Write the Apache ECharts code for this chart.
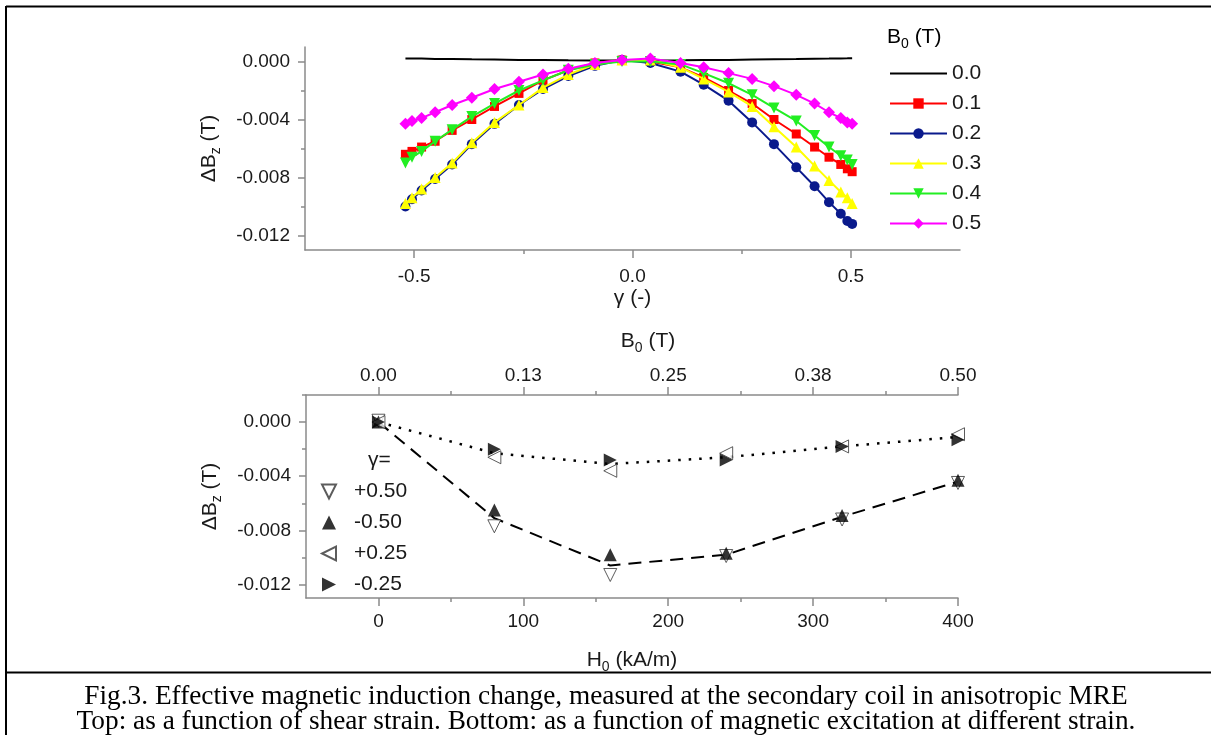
<!DOCTYPE html>
<html>
<head>
<meta charset="utf-8">
<script src="https://cdn.jsdelivr.net/npm/echarts@6/dist/echarts.min.js"></script>
<style>
html,body{margin:0;padding:0;background:#fff;}
#chart{width:1211px;height:735px;}
</style>
</head>
<body>
<div id="chart"></div>
<script>
// ---------- DATA ----------
// Top panel: shear strain gamma (-) and ΔBz (T) for B0 = 0.0 ... 0.5 T
const gamma = [-0.52, -0.505, -0.483, -0.452, -0.413, -0.368, -0.316, -0.26, -0.205, -0.147, -0.086, -0.024,
               0.041, 0.11, 0.163, 0.22, 0.274, 0.324, 0.375, 0.417, 0.45, 0.477, 0.492, 0.503];
const b00 = [0.0002, 0.0002, 0.0002, 0.00018, 0.00017, 0.00015, 0.00013, 0.00011, 0.0001, 0.00008, 0.00007, 0.00007,
             0.00007, 0.00008, 0.0001, 0.00011, 0.00013, 0.00015, 0.00017, 0.00019, 0.0002, 0.00021, 0.00022, 0.00023];
const b01 = [-0.0064, -0.0062, -0.0059, -0.0055, -0.00475, -0.0040, -0.0031, -0.0022, -0.0013, -0.0006, -0.0001, 0.0001,
             0.0000, -0.0004, -0.0011, -0.0020, -0.0029, -0.0040, -0.0050, -0.0059, -0.0066, -0.0071, -0.0074, -0.0076];
const b02 = [-0.0100, -0.0095, -0.0089, -0.0081, -0.0071, -0.0057, -0.0043, -0.0030, -0.0019, -0.0010, -0.0003, 0.0001,
             -0.0001, -0.0007, -0.0016, -0.0027, -0.0042, -0.0057, -0.0073, -0.0086, -0.0097, -0.0105, -0.0110, -0.0112];
const b03 = [-0.0098, -0.0094, -0.0088, -0.0080, -0.0070, -0.0056, -0.0042, -0.0030, -0.0018, -0.0009, -0.0002, 0.0001,
             0.0001, -0.0004, -0.0012, -0.0021, -0.0031, -0.0045, -0.0059, -0.0072, -0.0082, -0.0090, -0.0094, -0.0098];
const b04 = [-0.0070, -0.0066, -0.0062, -0.0055, -0.0047, -0.0038, -0.0029, -0.0020, -0.0013, -0.0006, -0.0002, 0.0000,
             0.0000, -0.0002, -0.0008, -0.0015, -0.0023, -0.0032, -0.0041, -0.0051, -0.0059, -0.0065, -0.0068, -0.0071];
const b05 = [-0.0043, -0.0041, -0.0039, -0.0035, -0.0030, -0.0025, -0.0019, -0.0014, -0.0009, -0.0005, -0.0001, 0.0001,
             0.0002, -0.0001, -0.0004, -0.0008, -0.0012, -0.0017, -0.0023, -0.0029, -0.0035, -0.0039, -0.0042, -0.0043];
const topNames = ['0.0', '0.1', '0.2', '0.3', '0.4', '0.5'];

// Bottom panel: H0 (kA/m) and ΔBz (T) at different strains
const H0 = [0, 80, 160, 240, 320, 400];
const gP50 = [0.0001, -0.0077, -0.0113, -0.0099, -0.0072, -0.0045];
const gM50 = [0.0000, -0.0065, -0.0098, -0.0097, -0.0069, -0.0043];
const gP25 = [0.0000, -0.0026, -0.0036, -0.0023, -0.0018, -0.0009];
const gM25 = [0.0000, -0.0020, -0.0028, -0.0028, -0.0018, -0.0013];
const fit50 = [0.0000, -0.0071, -0.0106, -0.0098, -0.0070, -0.0044];
const fit25 = [0.0000, -0.0023, -0.0031, -0.0026, -0.0018, -0.0011];
const bottomNames = ['+0.50', '-0.50', '+0.25', '-0.25'];

// Tick labels
const topXTicks = [-0.5, 0, 0.5];
const topXMinor = [-0.25, 0.25];
const yTicks = [-0.012, -0.008, -0.004, 0];
const yMinor = [-0.010, -0.006, -0.002];
const yMinorBottom = [-0.010, -0.006, -0.002, 0.002];
const hTicks = [0, 100, 200, 300, 400];
const hMinor = [50, 150, 250, 350];
const bTicks = [0, 0.125, 0.25, 0.375, 0.5];
const bMinor = [0.0625, 0.1875, 0.3125, 0.4375];
const captionLines = [
  'Fig.3. Effective magnetic induction change, measured at the secondary coil in anisotropic MRE',
  'Top: as a function of shear strain. Bottom: as a function of magnetic excitation at different strain.'
];

// ---------- STYLE ----------
const FONT = '"Liberation Sans", Arial, sans-serif';
const SERIF = '"Liberation Serif", "Times New Roman", serif';
const AX = '#8a8a8a';
const TXT = '#1a1a1a';
const subRich = {
  a: { fontSize: 21, fontFamily: FONT, color: TXT, lineHeight: 28, verticalAlign: 'middle' },
  s: { fontSize: 14, fontFamily: FONT, color: TXT, lineHeight: 28, verticalAlign: 'bottom' }
};
function zip(xs, ys) { return xs.map((x, i) => [x, ys[i]]); }

function mainAxis(opts) {
  return Object.assign({
    type: 'value',
    splitLine: { show: false },
    axisLine: { show: true, onZero: false, lineStyle: { color: AX, width: 1.5 } },
    axisTick: { show: true, inside: false, length: 7, lineStyle: { color: AX, width: 1.5 } },
    axisLabel: { color: TXT, fontSize: 19, fontFamily: FONT }
  }, opts);
}
function minorAxis(opts) {
  return Object.assign({
    type: 'value',
    splitLine: { show: false },
    axisLine: { show: false, onZero: false },
    axisLabel: { show: false }
  }, opts);
}

const topColors = ['#000000', '#ff0000', '#0a1a8c', '#ffff00', '#22ee22', '#ff00ff'];
const topSymbols = ['none', 'rect', 'circle', 'triangle', 'triangle', 'diamond'];
const topRot = [0, 0, 0, 0, 180, 0];
const topSizes = [0, 9, 10, 11, 11, 12];
const topData = [b00, b01, b02, b03, b04, b05];

const series = topData.map((ys, i) => ({
  name: topNames[i],
  type: 'line',
  xAxisIndex: 0, yAxisIndex: 0,
  data: zip(gamma, ys),
  showSymbol: i !== 0,
  symbol: topSymbols[i],
  symbolSize: topSizes[i],
  symbolRotate: topRot[i],
  lineStyle: { color: topColors[i], width: 2 },
  itemStyle: { color: topColors[i] },
  emphasis: { disabled: true },
  animation: false,
  z: 2 + i
}));

series.push({
  name: 'fit50', type: 'line', xAxisIndex: 2, yAxisIndex: 2,
  data: zip(H0, fit50), showSymbol: false, symbol: 'none',
  lineStyle: { color: '#000', width: 2, type: [13, 8] }, animation: false, z: 2
});
series.push({
  name: 'fit25', type: 'line', xAxisIndex: 2, yAxisIndex: 2,
  data: zip(H0, fit25), showSymbol: false, symbol: 'none',
  lineStyle: { color: '#000', width: 2.5, type: [2.5, 8] }, animation: false, z: 2
});

const botData = [gP50, gM50, gP25, gM25];
const botRot = [180, 0, 90, -90];
const botFill = ['#ffffff', '#000000', '#ffffff', '#000000'];
const botIcons = ['path://M0,0 L2,0 L1,2 Z', 'triangle', 'path://M2,0 L2,2 L0,1 Z', 'path://M0,0 L0,2 L2,1 Z'];
botData.forEach((ys, i) => {
  series.push({
    name: bottomNames[i], type: 'scatter', xAxisIndex: 2, yAxisIndex: 2,
    data: zip(H0, ys), symbol: 'triangle', symbolRotate: botRot[i], symbolSize: 13,
    itemStyle: { color: botFill[i], borderColor: '#333', borderWidth: botFill[i] === '#ffffff' ? 1 : 0 },
    animation: false, z: 5 + i
  });
});

const option = {
  backgroundColor: '#ffffff',
  animation: false,
  grid: [
    { left: 305, right: 251, top: 47, bottom: 485 },
    { left: 306, right: 253, top: 395, bottom: 137 }
  ],
  xAxis: [
    mainAxis({
      gridIndex: 0, min: -0.75, max: 0.75, position: 'bottom',
      name: 'γ (-)', nameLocation: 'middle', nameGap: 38,
      nameTextStyle: { fontSize: 21, fontFamily: FONT, color: TXT },
      axisTick: { show: true, length: 8, lineStyle: { color: AX, width: 1.5 }, customValues: topXTicks },
      axisLabel: { color: TXT, fontSize: 19, fontFamily: FONT, margin: 17, customValues: topXTicks,
                   formatter: v => v.toFixed(1) }
    }),
    minorAxis({
      gridIndex: 0, min: -0.75, max: 0.75, position: 'bottom',
      axisTick: { show: true, length: 4, lineStyle: { color: AX, width: 1.5 }, customValues: topXMinor }
    }),
    mainAxis({
      gridIndex: 1, min: -50, max: 400, position: 'bottom',
      name: '{a|H}{s|0}{a| (kA/m)}', nameLocation: 'middle', nameGap: 48,
      nameTextStyle: { rich: subRich },
      axisTick: { show: true, length: 8, lineStyle: { color: AX, width: 1.5 }, customValues: hTicks },
      axisLabel: { color: TXT, fontSize: 19, fontFamily: FONT, margin: 14, customValues: hTicks }
    }),
    minorAxis({
      gridIndex: 1, min: -50, max: 400, position: 'bottom',
      axisTick: { show: true, length: 4, lineStyle: { color: AX, width: 1.5 }, customValues: hMinor }
    }),
    mainAxis({
      gridIndex: 1, min: -0.0625, max: 0.5, position: 'top',
      name: '{a|B}{s|0}{a| (T)}', nameLocation: 'middle', nameGap: 40,
      nameTextStyle: { rich: subRich, padding: [0, 0, 0, 32] },
      axisTick: { show: true, length: 8, lineStyle: { color: AX, width: 1.5 }, customValues: bTicks },
      axisLabel: { color: TXT, fontSize: 19, fontFamily: FONT, margin: 10, customValues: bTicks,
                   formatter: v => v.toFixed(2) }
    }),
    minorAxis({
      gridIndex: 1, min: -0.0625, max: 0.5, position: 'top',
      axisTick: { show: true, length: 4, lineStyle: { color: AX, width: 1.5 }, customValues: bMinor }
    })
  ],
  yAxis: [
    mainAxis({
      gridIndex: 0, min: -0.013, max: 0.001, position: 'left',
      name: '{a|ΔB}{s|z}{a| (T)}', nameLocation: 'middle', nameGap: 82, nameRotate: 90,
      nameTextStyle: { rich: subRich },
      axisTick: { show: true, length: 7, lineStyle: { color: AX, width: 1.5 }, customValues: yTicks },
      axisLabel: { color: TXT, fontSize: 19, fontFamily: FONT, margin: 15, customValues: yTicks,
                   formatter: v => v.toFixed(3) }
    }),
    minorAxis({
      gridIndex: 0, min: -0.013, max: 0.001, position: 'left',
      axisTick: { show: true, length: 4, lineStyle: { color: AX, width: 1.5 }, customValues: yMinor }
    }),
    mainAxis({
      gridIndex: 1, min: -0.013, max: 0.002, position: 'left',
      name: '{a|ΔB}{s|z}{a| (T)}', nameLocation: 'middle', nameGap: 82, nameRotate: 90,
      nameTextStyle: { rich: subRich },
      axisTick: { show: true, length: 7, lineStyle: { color: AX, width: 1.5 }, customValues: yTicks },
      axisLabel: { color: TXT, fontSize: 19, fontFamily: FONT, margin: 15, customValues: yTicks,
                   formatter: v => v.toFixed(3) }
    }),
    minorAxis({
      gridIndex: 1, min: -0.013, max: 0.002, position: 'left',
      axisTick: { show: true, length: 4, lineStyle: { color: AX, width: 1.5 }, customValues: yMinorBottom }
    })
  ],
  legend: [
    {
      data: topNames.map((n, i) => i === 0 ? { name: n, itemStyle: { opacity: 0 } } : { name: n }),
      orient: 'vertical', left: 884, top: 58,
      itemWidth: 57, itemHeight: 13, itemGap: 9,
      selectedMode: false,
      textStyle: { fontSize: 21, fontFamily: FONT, color: TXT }
    },
    {
      data: bottomNames.map((n, i) => ({ name: n, icon: botIcons[i] })),
      orient: 'vertical', left: 316, top: 476,
      itemWidth: 14, itemHeight: 14, itemGap: 10,
      selectedMode: false,
      textStyle: { fontSize: 21, fontFamily: FONT, color: TXT, padding: [0, 0, 0, 13] }
    }
  ],
  graphic: [
    { type: 'line', shape: { x1: 6, y1: 6.5, x2: 1211, y2: 6.5 }, style: { stroke: '#000', lineWidth: 2 }, silent: true },
    { type: 'line', shape: { x1: 6, y1: 6, x2: 6, y2: 735 }, style: { stroke: '#000', lineWidth: 2 }, silent: true },
    { type: 'line', shape: { x1: 6, y1: 672.5, x2: 1211, y2: 672.5 }, style: { stroke: '#000', lineWidth: 2 }, silent: true },
    {
      type: 'text', left: 887, top: 27, silent: true,
      style: { text: '{a|B}{s|0}{a| (T)}', rich: subRich }
    },
    {
      type: 'text', left: 368, top: 450, silent: true,
      style: { text: 'γ=', fontSize: 21, fontFamily: FONT, fill: TXT }
    },
    {
      type: 'text', x: 606, y: 697, silent: true,
      style: { text: captionLines[0], fontSize: 27.3, fontFamily: SERIF,
               fill: '#000', align: 'center', verticalAlign: 'middle' }
    },
    {
      type: 'text', x: 606, y: 722, silent: true,
      style: { text: captionLines[1], fontSize: 27.3, fontFamily: SERIF,
               fill: '#000', align: 'center', verticalAlign: 'middle' }
    }
  ],
  series: series
};

const chart = echarts.init(document.getElementById('chart'), null, { renderer: 'canvas' });
chart.setOption(option);
</script>
</body>
</html>
